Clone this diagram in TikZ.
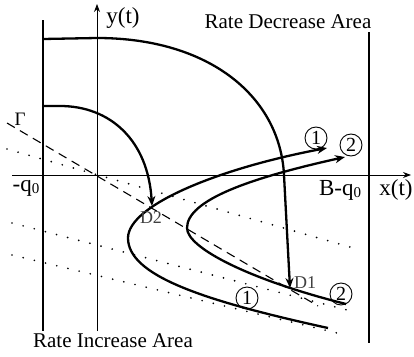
\documentclass[tikz,border=0pt]{standalone}
\usepackage{fontspec}
\setmainfont{Liberation Serif}
\usetikzlibrary{arrows.meta}
\begin{document}
\begin{tikzpicture}[x=1pt,y=-1pt,
  thickline/.style={line width=2.3pt},
  axisline/.style={line width=0.9pt},
  dotline/.style={line width=1.9pt, line cap=round, dash pattern=on 0pt off 11.5pt},
  dashline/.style={line width=1.1pt, dash pattern=on 9pt off 6pt},
  arr/.style={-{Stealth[length=10pt,width=8pt]}},
  axarr/.style={-{Stealth[length=8pt,width=6pt]}},
  lab/.style={font=\fontsize{21}{24}\selectfont, inner sep=0pt},
  axlab/.style={font=\fontsize{23}{26}\selectfont, inner sep=0pt},
  dlab/.style={font=\fontsize{18}{20}\selectfont, inner sep=0pt, text=black!75},
  circ/.style={draw, circle, line width=0.9pt, inner sep=0pt, minimum size=22pt, font=\fontsize{20}{20}\selectfont},
]
\useasboundingbox (0,0) rectangle (414,356);
% axes
\coordinate (xs) at (12,175);
\coordinate (xe) at (411,175);
\coordinate (ys) at (97,331);
\coordinate (ye) at (97,4);
\draw[axisline, axarr] (xs) -- (xe);
\draw[axisline, axarr] (ys) -- (ye);
% boundary lines
\coordinate (lt) at (43,20);
\coordinate (lb) at (43,331);
\coordinate (rt) at (369,32);
\coordinate (rb) at (369,343);
\draw[thickline] (lt) -- (lb);
\draw[thickline] (rt) -- (rb);
% dotted lines
\coordinate (a1) at (7,149);  \coordinate (a2) at (350,247);
\coordinate (b1) at (12,223); \coordinate (b2) at (347,310);
\coordinate (c1) at (12,255); \coordinate (c2) at (337,333);
\draw[dotline] (a1) -- (a2);
\draw[dotline] (b1) -- (b2);
\draw[dotline] (c1) -- (c2);
% dashed Gamma line
\coordinate (g1) at (7,123);
\coordinate (g2) at (318,306);
\draw[dashline] (g1) -- (g2);
% key points
\coordinate (D1) at (290,288);
\coordinate (D2) at (152,206);
% big arc
\coordinate (bigs) at (43,39);
\draw[thickline, arr] (bigs) -- (97,38) .. controls (210,38) and (280,97) .. (284,175) .. controls (287,232) .. (D1);
% small arc
\coordinate (smalls) at (43,106);
\draw[thickline, arr] (smalls) -- (60,106) .. controls (110,106) and (148,140) .. (D2);
% outer trajectory 1
\coordinate (o1s) at (328,328);
\coordinate (o1v) at (128,238);
\coordinate (o1e) at (327,148);
\draw[thickline, arr] (o1s) .. controls (200,300) and (128,275) .. (o1v) .. controls (128,205) and (220,168) .. (o1e);
% inner trajectory 2
\coordinate (o2s) at (346,304);
\coordinate (o2v) at (187,228);
\coordinate (o2e) at (345,157);
\draw[thickline, arr] (o2s) .. controls (250,280) and (187,248) .. (o2v) .. controls (187,200) and (250,178) .. (o2e);
% labels
\node[lab] (dec) at (288,22) {Rate Decrease Area};
\node[lab] (inc) at (113,341) {Rate Increase Area};
\node[axlab] (ylab) at (123,18) {y(t)};
\node[axlab] (xlab) at (396,190) {x(t)};
\node[axlab] (mq) at (26,188) {-q{\fontsize{15}{15}\selectfont\raisebox{-2pt}{0}}};
\node[axlab] (bq) at (340,190) {B-q{\fontsize{15}{15}\selectfont\raisebox{-2pt}{0}}};
\node[font=\fontsize{19}{20}\selectfont, inner sep=0pt] (gam) at (20,119) {Γ};
\node[dlab] (d2l) at (151,218) {D2};
\node[dlab] (d1l) at (305,283) {D1};
\node[circ] (u1) at (316,138) {1};
\node[circ] (u2) at (351,145) {2};
\node[circ] (l1) at (247,298) {1};
\node[circ] (l2) at (341,294) {2};
\end{tikzpicture}
\end{document}
